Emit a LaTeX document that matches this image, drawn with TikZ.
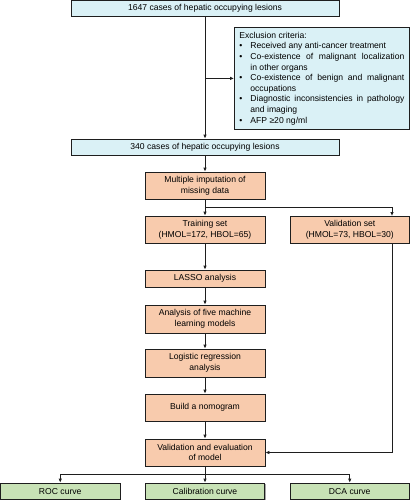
\documentclass[tikz,border=0pt]{standalone}
\usepackage{fontspec}
\setmainfont{Liberation Sans}
\usetikzlibrary{arrows.meta,shadows,calc}
\definecolor{cyanbox}{HTML}{DAF1F6}
\definecolor{orangebox}{HTML}{F8CBAD}
\definecolor{greenbox}{HTML}{C8E2B6}
\definecolor{linecol}{HTML}{1E1E1E}
\begin{document}
\begin{tikzpicture}[x=1pt,y=-1pt,
  font=\fontsize{8.6}{10.6}\selectfont,
  box/.style={draw=linecol,line width=0.8pt,align=center,inner sep=1pt,
    drop shadow={shadow xshift=0.8pt,shadow yshift=-0.8pt,fill=black,opacity=0.35}},
  cbox/.style={box,fill=cyanbox,minimum width=268pt,minimum height=16pt},
  obox/.style={box,fill=orangebox,minimum width=120pt,minimum height=27pt},
  gbox/.style={box,fill=greenbox,minimum width=119.5pt,minimum height=16.5pt},
  arr/.style={draw=linecol,line width=0.8pt,-{Latex[length=4pt,width=3.6pt]}}]
\useasboundingbox (0,0) rectangle (410,500);

\node[cbox] (top) at (205,8.5) {1647 cases of hepatic occupying lesions};
\node[box,fill=cyanbox,anchor=north west,text width=165pt,inner xsep=5pt,inner ysep=3pt,
      minimum height=101pt,align=justify] (excl) at (234,27.5) {%
  \hyphenpenalty=10000 \exhyphenpenalty=10000
  Exclusion criteria:
  \begin{list}{\textbullet}{\setlength\leftmargin{11pt}\setlength\labelwidth{11pt}%
    \setlength\labelsep{0pt}\setlength\itemsep{0pt}\setlength\topsep{0pt}%
    \setlength\parsep{0pt}\setlength\partopsep{0pt}\renewcommand\makelabel[1]{#1\hfil}}
  \item Received any anti-cancer treatment
  \item Co-existence of malignant localization\linebreak in other organs
  \item Co-existence of benign and malignant\linebreak occupations
  \item Diagnostic inconsistencies in pathology\linebreak and imaging
  \item AFP ≥20 ng/ml
  \end{list}};
\node[cbox] (n340) at (205,147) {340 cases of hepatic occupying lesions};
\node[obox] (mi) at (205,185.5) {Multiple imputation of\\missing data};
\node[obox] (train) at (205,229.5) {Training set\\(HMOL=172, HBOL=65)};
\node[obox,minimum width=119.5pt] (valid) at (349.75,229.5) {Validation set\\(HMOL=73, HBOL=30)};
\node[obox,minimum height=17pt] (lasso) at (205,278.5) {LASSO analysis};
\node[obox,minimum height=28pt] (five) at (205,319) {Analysis of five machine\\learning models};
\node[obox,minimum height=28pt] (logit) at (205,363) {Logistic regression\\analysis};
\node[obox] (build) at (205,407.5) {Build a nomogram};
\node[obox] (veval) at (205,452.5) {Validation and evaluation\\of model};
\node[gbox] (roc) at (60.25,491.25) {ROC curve};
\node[gbox] (calib) at (205,491.25) {Calibration curve};
\node[gbox] (dca) at (349.75,491.25) {DCA curve};

\coordinate (vin) at (392,216);
\coordinate (vout) at (392,243);

\draw[arr] (top.south) -- (n340.north);
\draw[arr] (top.south |- excl.west) -- (excl.west);
\draw[arr] (n340.south) -- (mi.north);
\draw[arr] (mi.south) -- (train.north);
\draw[arr] (mi.south) -- ++(0,7.5) -| (vin);
\draw[arr] (train.south) -- (lasso.north);
\draw[arr] (lasso.south) -- (five.north);
\draw[arr] (five.south) -- (logit.north);
\draw[arr] (logit.south) -- (build.north);
\draw[arr] (build.south) -- (veval.north);
\draw[arr] (vout) |- (veval.east);
\draw[arr] (veval.south) -- (calib.north);
\draw[arr] (veval.south) -- ++(0,8) -| (roc.north);
\draw[arr] (veval.south) -- ++(0,8) -| (dca.north);
\end{tikzpicture}
\end{document}
